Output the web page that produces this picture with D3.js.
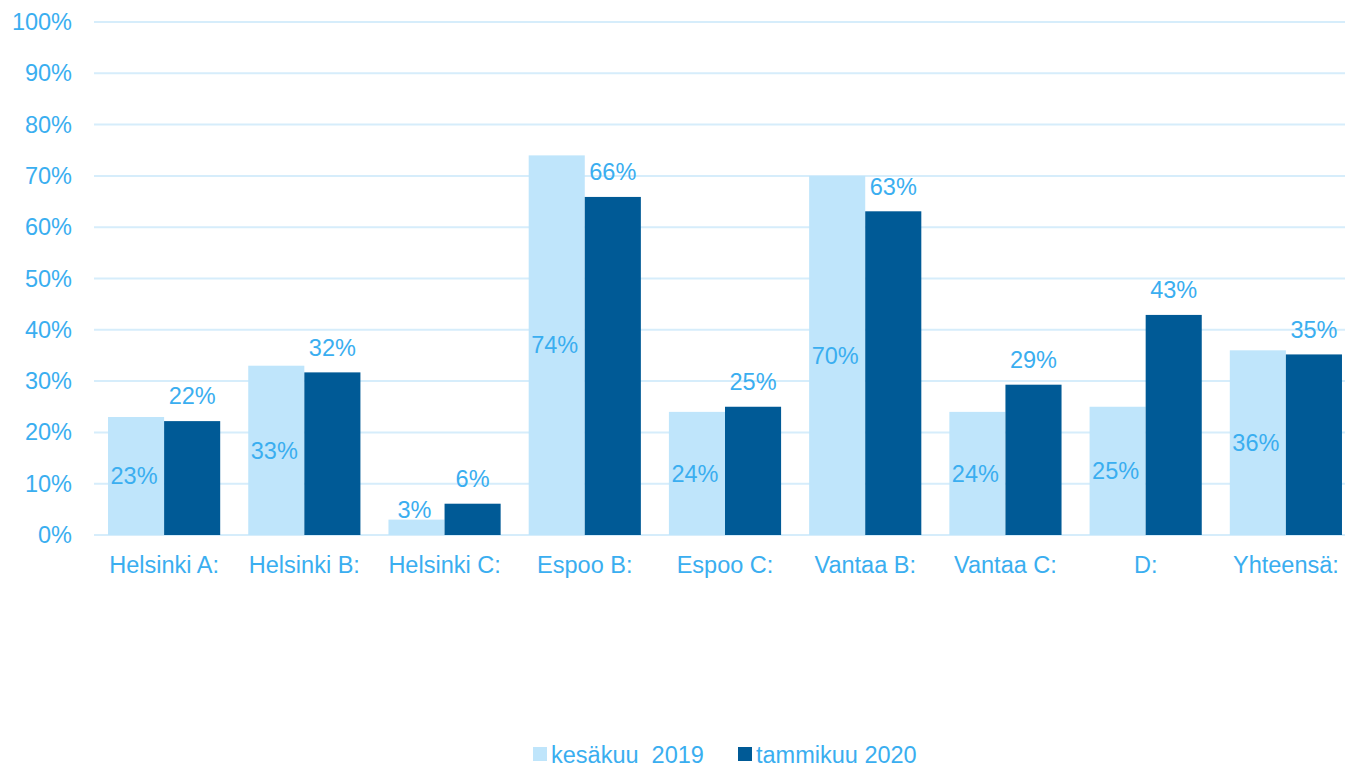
<!DOCTYPE html>
<html>
<head>
<meta charset="utf-8">
<script src="https://cdn.jsdelivr.net/npm/d3@7"></script>
<style>
  body { margin: 0; background: #fff; overflow: hidden; }
  svg text { font-family: "Liberation Sans", Arial, sans-serif; fill: #3aaef0; }
</style>
</head>
<body>
<div id="my_dataviz"></div>
<script>
// chart data
var categories = ["Helsinki A:", "Helsinki B:", "Helsinki C:", "Espoo B:", "Espoo C:", "Vantaa B:", "Vantaa C:", "D:", "Yhteensä:"];
var summer2019 = [23, 33, 3, 74, 24, 70, 24, 25, 36];
var winter2020 = [22.2, 31.7, 6.1, 65.9, 25, 63.1, 29.3, 42.9, 35.2];
var seriesNames = ["kesäkuu  2019", "tammikuu 2020"];
var yTicks = [0, 10, 20, 30, 40, 50, 60, 70, 80, 90, 100];

var colors = ["#bfe5fb", "#005a96"];
var fontSize = 23.5;

var width = 1345, height = 765;
var margin = {top: 22, right: -11, bottom: 230, left: 94};

var svg = d3.select("#my_dataviz")
  .append("svg")
    .attr("width", width)
    .attr("height", height);

// the plot runs a bit past the right edge, as in the original
var x = d3.scaleBand()
  .domain(categories)
  .range([margin.left, width - margin.right])
  .paddingInner(0.2)
  .paddingOuter(0.1);

var x1 = d3.scaleBand()
  .domain([0, 1])
  .range([0, x.bandwidth()]);

var y = d3.scaleLinear()
  .domain([0, 100])
  .range([height - margin.bottom, margin.top]);

// grid lines
svg.append("g")
  .selectAll("line")
  .data(yTicks)
  .enter().append("line")
    .attr("x1", margin.left)
    .attr("x2", width)
    .attr("y1", function(d) { return y(d); })
    .attr("y2", function(d) { return y(d); })
    .attr("stroke", "#d6edfb")
    .attr("stroke-width", 2);

// y axis labels
var yAxis = svg.append("g")
  .attr("transform", "translate(" + (margin.left - 22) + ",0)")
  .call(d3.axisLeft(y).tickValues(yTicks).tickSize(0).tickPadding(0).tickFormat(function(d) { return d + "%"; }));
yAxis.select(".domain").remove();
yAxis.selectAll("text").attr("font-size", fontSize);

// x axis labels
var xAxis = svg.append("g")
  .attr("transform", "translate(0," + (height - margin.bottom + 18) + ")")
  .call(d3.axisBottom(x).tickSize(0));
xAxis.select(".domain").remove();
xAxis.selectAll("text").attr("font-size", fontSize);

var groups = svg.append("g")
  .selectAll("g")
  .data(categories)
  .enter().append("g")
    .attr("transform", function(d) { return "translate(" + x(d) + ",0)"; });

groups.append("rect")
  .attr("x", x1(0))
  .attr("width", x1.bandwidth())
  .attr("y", function(d, i) { return y(summer2019[i]); })
  .attr("height", function(d, i) { return y(0) - y(summer2019[i]); })
  .attr("fill", colors[0]);

groups.append("rect")
  .attr("x", x1(1))
  .attr("width", x1.bandwidth())
  .attr("y", function(d, i) { return y(winter2020[i]); })
  .attr("height", function(d, i) { return y(0) - y(winter2020[i]); })
  .attr("fill", colors[1]);

// light labels centred in the bar, lifted when the bar is too short
groups.append("text")
  .attr("x", x1(0) + x1.bandwidth() / 2 - 2)
  .attr("y", function(d, i) { return Math.min((y(summer2019[i]) + y(0)) / 2, y(0) - 25); })
  .attr("dy", "0.35em")
  .attr("text-anchor", "middle")
  .attr("font-size", fontSize)
  .text(function(d, i) { return Math.round(summer2019[i]) + "%"; });

// dark labels above the bar
groups.append("text")
  .attr("x", x1(1) + x1.bandwidth() / 2)
  .attr("y", function(d, i) { return y(winter2020[i]) - 25; })
  .attr("dy", "0.35em")
  .attr("text-anchor", "middle")
  .attr("font-size", fontSize)
  .text(function(d, i) { return Math.round(winter2020[i]) + "%"; });

// legend
var legendX = [533, 738];
var legend = svg.append("g")
  .selectAll("g")
  .data(seriesNames)
  .enter().append("g")
    .attr("transform", function(d, i) { return "translate(" + legendX[i] + ",747)"; });

legend.append("rect")
  .attr("width", 14)
  .attr("height", 14)
  .attr("fill", function(d, i) { return colors[i]; });

legend.append("text")
  .attr("x", 18)
  .attr("y", 8)
  .attr("dy", "0.35em")
  .attr("font-size", fontSize)
  .style("white-space", "pre")
  .text(function(d) { return d; });
</script>
</body>
</html>
